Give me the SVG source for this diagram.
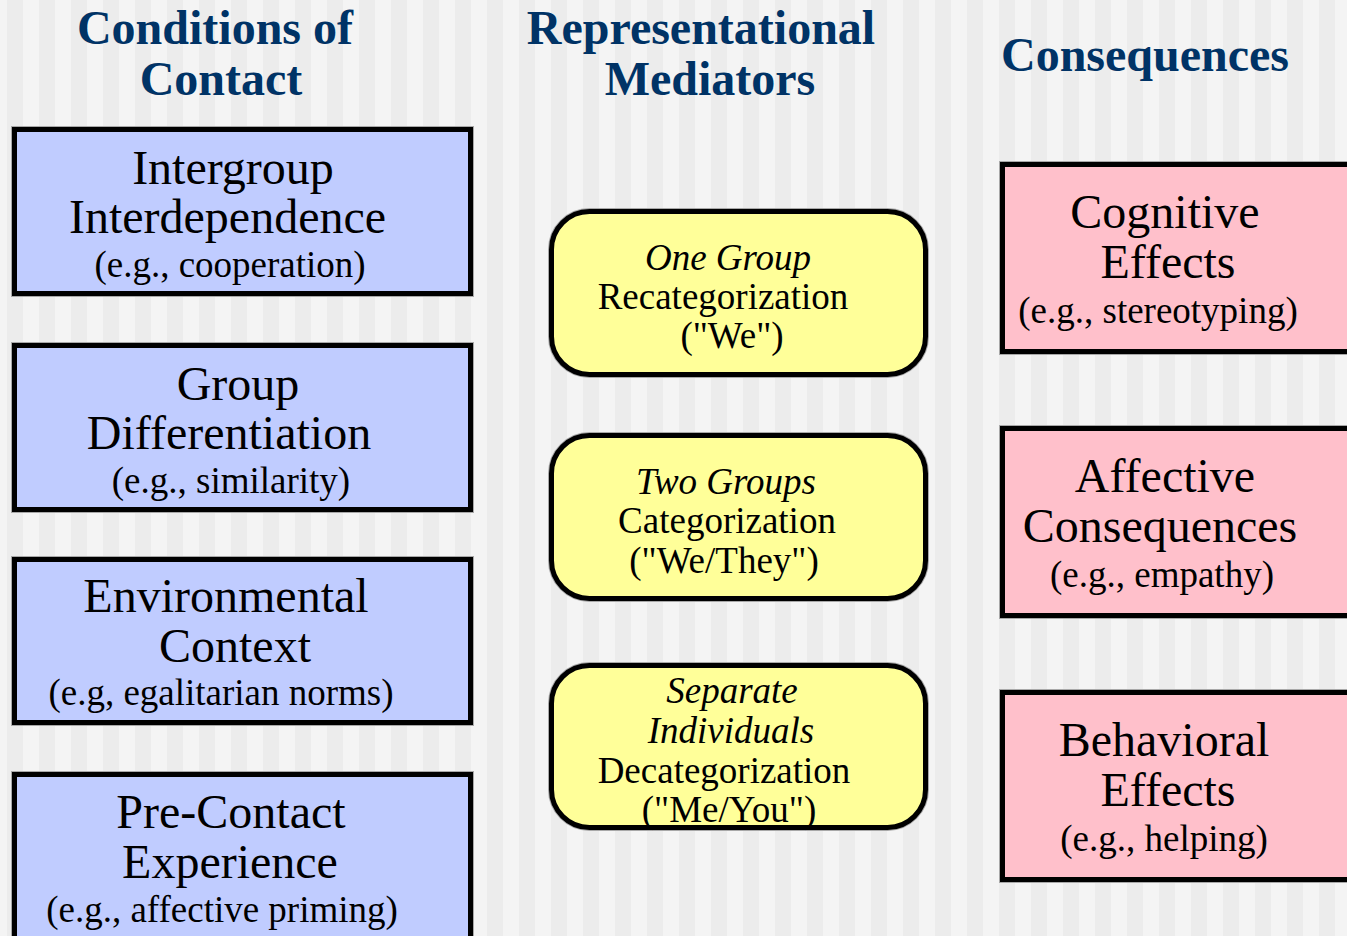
<svg xmlns="http://www.w3.org/2000/svg" width="1347" height="936" viewBox="0 0 1347 936">
<defs>
<pattern id="stripes" patternUnits="userSpaceOnUse" x="7" y="0" width="32" height="10">
<rect x="0" y="0" width="16" height="10" fill="#ececec"/>
<rect x="16" y="0" width="16" height="10" fill="#f4f4f4"/>
</pattern>
</defs>
<style>
.hdr{font-family:"Liberation Serif","Times New Roman",serif;font-weight:bold;font-size:48px;fill:#003366;text-anchor:middle}
.big{font-family:"Liberation Serif","Times New Roman",serif;font-size:48px;fill:#000;text-anchor:middle}
.small{font-family:"Liberation Serif","Times New Roman",serif;font-size:37px;fill:#000;text-anchor:middle}
.it{font-style:italic}
.halo{fill:none;stroke:#a8a8a8;stroke-width:7}
.blue{fill:#c0ccff;stroke:#000;stroke-width:5}
.pink{fill:#ffc0cb;stroke:#000;stroke-width:5}
.yellow{fill:#ffff99;stroke:#000;stroke-width:5}
</style>
<rect x="0" y="0" width="1347" height="936" fill="url(#stripes)"/>
<g id="headers">
<text class="hdr" x="215" y="44">Conditions of</text>
<text class="hdr" x="221" y="95">Contact</text>
<text class="hdr" x="701" y="44">Representational</text>
<text class="hdr" x="710" y="95">Mediators</text>
<text class="hdr" x="1145" y="71">Consequences</text>
</g>
<g id="connectors"></g>
<g id="intergroup-interdependence">
<rect class="halo" x="14.5" y="129.5" width="456" height="164"/>
<rect class="blue" x="14.5" y="129.5" width="456" height="164"/>
<text class="big" x="233" y="184">Intergroup</text>
<text class="big" x="227.5" y="233">Interdependence</text>
<text class="small" x="230" y="277">(e.g., cooperation)</text>
</g>
<g id="group-differentiation">
<rect class="halo" x="14.5" y="345.5" width="456" height="164"/>
<rect class="blue" x="14.5" y="345.5" width="456" height="164"/>
<text class="big" x="238" y="400">Group</text>
<text class="big" x="229" y="449">Differentiation</text>
<text class="small" x="231" y="493">(e.g., similarity)</text>
</g>
<g id="environmental-context">
<rect class="halo" x="14.5" y="559.5" width="456" height="163"/>
<rect class="blue" x="14.5" y="559.5" width="456" height="163"/>
<text class="big" x="226" y="612">Environmental</text>
<text class="big" x="235" y="662">Context</text>
<text class="small" x="221" y="705">(e.g, egalitarian norms)</text>
</g>
<g id="pre-contact-experience">
<rect class="halo" x="14.5" y="774.5" width="456" height="200"/>
<rect class="blue" x="14.5" y="774.5" width="456" height="200"/>
<text class="big" x="231" y="828">Pre-Contact</text>
<text class="big" x="230" y="878">Experience</text>
<text class="small" x="222" y="922">(e.g., affective priming)</text>
</g>
<g id="one-group">
<rect class="halo" x="551.5" y="211.5" width="374" height="163" rx="38"/>
<rect class="yellow" x="551.5" y="211.5" width="374" height="163" rx="38"/>
<text class="small it" x="728" y="270">One Group</text>
<text class="small" x="723" y="309">Recategorization</text>
<text class="small" x="732" y="348">("We")</text>
</g>
<g id="two-groups">
<rect class="halo" x="551.5" y="435.5" width="374" height="163" rx="38"/>
<rect class="yellow" x="551.5" y="435.5" width="374" height="163" rx="38"/>
<text class="small it" x="726" y="494">Two Groups</text>
<text class="small" x="727" y="533">Categorization</text>
<text class="small" x="724" y="573">("We/They")</text>
</g>
<g id="separate-individuals">
<rect class="halo" x="551.5" y="665.5" width="374" height="162" rx="38"/>
<rect class="yellow" x="551.5" y="665.5" width="374" height="162" rx="38"/>
<text class="small it" x="732" y="703">Separate</text>
<text class="small it" x="731" y="743">Individuals</text>
<text class="small" x="724" y="783">Decategorization</text>
<text class="small" x="729" y="822">("Me/You")</text>
</g>
<g id="cognitive-effects">
<rect class="halo" x="1002.5" y="164.5" width="360" height="187"/>
<rect class="pink" x="1002.5" y="164.5" width="360" height="187"/>
<text class="big" x="1165" y="228">Cognitive</text>
<text class="big" x="1168" y="278">Effects</text>
<text class="small" x="1158" y="323">(e.g., stereotyping)</text>
</g>
<g id="affective-consequences">
<rect class="halo" x="1002.5" y="428.5" width="360" height="187"/>
<rect class="pink" x="1002.5" y="428.5" width="360" height="187"/>
<text class="big" x="1165" y="492">Affective</text>
<text class="big" x="1160" y="542">Consequences</text>
<text class="small" x="1162" y="587">(e.g., empathy)</text>
</g>
<g id="behavioral-effects">
<rect class="halo" x="1002.5" y="692.5" width="360" height="187"/>
<rect class="pink" x="1002.5" y="692.5" width="360" height="187"/>
<text class="big" x="1164" y="756">Behavioral</text>
<text class="big" x="1168" y="806">Effects</text>
<text class="small" x="1164" y="851">(e.g., helping)</text>
</g>
</svg>
